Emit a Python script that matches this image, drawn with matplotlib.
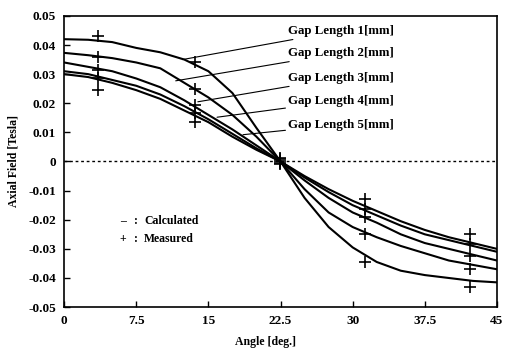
import matplotlib
matplotlib.use("Agg")
import matplotlib.pyplot as plt

angle = [0, 2.5, 5, 7.5, 10, 12.5, 15, 17.5, 20, 22.5,
         25, 27.5, 30, 32.5, 35, 37.5, 40, 42.5, 45]
gap1 = [0.042, 0.0418, 0.041, 0.039, 0.0375, 0.035, 0.031, 0.0235, 0.0115, 0.0,
        -0.0125, -0.0225, -0.0295, -0.0345, -0.0375, -0.039, -0.040, -0.041, -0.0415]
gap2 = [0.0373, 0.0365, 0.0355, 0.034, 0.032, 0.027, 0.022, 0.016, 0.0085, 0.0,
        -0.0095, -0.0175, -0.0225, -0.026, -0.029, -0.0315, -0.034, -0.0355, -0.037]
gap3 = [0.034, 0.0325, 0.031, 0.0285, 0.0255, 0.021, 0.016, 0.011, 0.0055, 0.0,
        -0.0065, -0.0125, -0.0175, -0.021, -0.025, -0.028, -0.030, -0.032, -0.034]
gap4 = [0.031, 0.030, 0.028, 0.026, 0.023, 0.019, 0.0145, 0.0095, 0.0045, 0.0,
        -0.0055, -0.0105, -0.015, -0.0185, -0.022, -0.025, -0.027, -0.029, -0.031]
gap5 = [0.030, 0.029, 0.027, 0.0245, 0.0215, 0.0175, 0.0135, 0.0085, 0.004, 0.0,
        -0.005, -0.0095, -0.0135, -0.017, -0.0205, -0.0235, -0.026, -0.028, -0.030]

# measured points
meas_angle = [3.5, 13.6, 22.4, 31.3, 42.2]
meas1 = [0.043, 0.034, 0.0008, -0.0346, -0.043]
meas2 = [0.036, 0.025, 0.0003, -0.025, -0.037]
meas3 = [0.0315, 0.0195, 0.0012, -0.019, -0.0325]
meas4 = [0.0285, 0.0168, -0.0004, -0.0164, -0.0284]
meas5 = [0.0245, 0.0134, -0.001, -0.013, -0.025]

labels = ["Gap Length 1[mm]", "Gap Length 2[mm]", "Gap Length 3[mm]",
          "Gap Length 4[mm]", "Gap Length 5[mm]"]
label_from = [(12.3, 0.035), (11.6, 0.0277), (13.9, 0.0205), (15.9, 0.0152), (18.6, 0.0092)]
label_at = [(23.3, 0.0449), (23.3, 0.0373), (23.3, 0.0288), (23.3, 0.0209), (23.3, 0.0127)]

plt.rcParams['font.family'] = ['Liberation Serif', 'DejaVu Serif']
plt.rcParams['font.weight'] = 'bold'

fig = plt.figure(figsize=(5.05, 3.53), dpi=100)
ax = fig.add_axes([0.127, 0.13, 0.857, 0.825])

for g in [gap1, gap2, gap3, gap4, gap5]:
    ax.plot(angle, g, color='black', lw=1.5)
for m in [meas1, meas2, meas3, meas4, meas5]:
    ax.plot(meas_angle, m, ls='none', marker='+', ms=8, mew=1.2, color='black')

ax.axhline(0, color='black', lw=1, ls=(0, (2, 2)))

for lab, p0, p1 in zip(labels, label_from, label_at):
    ax.annotate(lab, xy=p0, xytext=p1, ha='left', va='center', fontsize=9.3,
                fontweight='bold',
                arrowprops=dict(arrowstyle='-', color='black', lw=0.8,
                                shrinkA=0, shrinkB=0))

# legend drawn as text
for y, sym, txt in [(-0.0205, "\u2013", "Calculated"), (-0.0267, "+", "Measured")]:
    ax.text(6.1, y, sym, fontsize=8.5, fontweight='bold', va='center', ha='center')
    ax.text(7.5, y, ":", fontsize=8.5, fontweight='bold', va='center', ha='center')
    ax.text(8.3, y, txt, fontsize=8.5, fontweight='bold', va='center', ha='left')

ax.set_xlim(0, 45)
ax.set_ylim(-0.05, 0.05)
ax.set_xticks([0, 7.5, 15, 22.5, 30, 37.5, 45])
ax.set_xticklabels(["0", "7.5", "15", "22.5", "30", "37.5", "45"])
yt = [-0.05, -0.04, -0.03, -0.02, -0.01, 0, 0.01, 0.02, 0.03, 0.04, 0.05]
ax.set_yticks(yt)
ax.set_yticklabels(["0" if v == 0 else f"{v:.2f}" for v in yt])
ax.tick_params(direction='in', length=4, width=1, labelsize=9.5, pad=6)
for s in ax.spines.values():
    s.set_linewidth(1.2)

ax.set_xlabel("Angle [deg.]", fontsize=8.5, fontweight='bold', labelpad=8)
ax.xaxis.set_label_coords(0.465, -0.1)
ax.set_ylabel("Axial Field [Tesla]", fontsize=8.5, fontweight='bold', labelpad=6)

fig.savefig("out.png", dpi=100)
